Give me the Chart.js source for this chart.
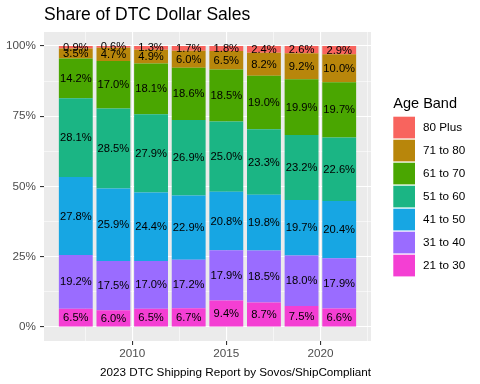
<!DOCTYPE html>
<html>
<head>
<meta charset="utf-8">
<script src="https://cdn.jsdelivr.net/npm/chart.js@4.4.1/dist/chart.umd.min.js"></script>
<style>
  html, body { margin: 0; padding: 0; background: #ffffff; }
  #wrap { width: 480px; height: 384px; }
</style>
</head>
<body>
<div id="wrap"><canvas id="chart" width="480" height="384"></canvas></div>
<script>
// data (percent of DTC dollar sales)
const years = [2007, 2009, 2011, 2013, 2015, 2017, 2019, 2021];
const bandNames = ["21 to 30", "31 to 40", "41 to 50", "51 to 60", "61 to 70", "71 to 80", "80 Plus"];
const share21to30 = [6.5, 6.0, 6.5, 6.7, 9.4, 8.7, 7.5, 6.6];
const share31to40 = [19.2, 17.5, 17.0, 17.2, 17.9, 18.5, 18.0, 17.9];
const share41to50 = [27.8, 25.9, 24.4, 22.9, 20.8, 19.8, 19.7, 20.4];
const share51to60 = [28.1, 28.5, 27.9, 26.9, 25.0, 23.3, 23.2, 22.6];
const share61to70 = [14.2, 17.0, 18.1, 18.6, 18.5, 19.0, 19.9, 19.7];
const share71to80 = [3.5, 4.7, 4.9, 6.0, 6.5, 8.2, 9.2, 10.0];
const share80plus = [0.9, 0.6, 1.3, 1.7, 1.8, 2.4, 2.6, 2.9];
const yTicks = [0, 0.25, 0.5, 0.75, 1];
const yMinorTicks = [0.125, 0.375, 0.625, 0.875];
const xTicks = [2010, 2015, 2020];
const xMinorTicks = [2007.5, 2012.5, 2017.5, 2022.5];

const bandShares = [share21to30, share31to40, share41to50, share51to60, share61to70, share71to80, share80plus];
const bandColors = ["#F43FD3", "#9A6CFF", "#17A6E3", "#1BB584", "#4AA601", "#B8860B", "#F8645E"];

const FONT = "'Liberation Sans', Arial, Helvetica, sans-serif";

// position = "fill": each year's bar sums to 1
const totals = years.map((_, j) => bandShares.reduce((s, arr) => s + arr[j], 0));

const datasets = bandNames.map((name, i) => ({
    label: name,
    data: years.map((yr, j) => ({ x: yr, y: bandShares[i][j] / totals[j] })),
    raw: bandShares[i],
    backgroundColor: bandColors[i],
    borderWidth: 0,
    barPercentage: 0.9,
    categoryPercentage: 1
}));

// grey panel like ggplot
const panelBg = {
    id: "panelBg",
    beforeDraw(chart) {
        const { ctx, chartArea: a } = chart;
        ctx.save();
        ctx.fillStyle = "#EBEBEB";
        ctx.fillRect(a.left, a.top, a.right - a.left, a.bottom - a.top);
        ctx.restore();
    }
};

// percent labels centred in each segment
const segLabels = {
    id: "segLabels",
    afterDatasetsDraw(chart) {
        const ctx = chart.ctx;
        ctx.save();
        ctx.font = "11.2px " + FONT;
        ctx.fillStyle = "#000000";
        ctx.textAlign = "center";
        ctx.textBaseline = "middle";
        chart.data.datasets.forEach((ds, i) => {
            chart.getDatasetMeta(i).data.forEach((bar, j) => {
                const p = bar.getProps(["x", "y", "base"], true);
                ctx.fillText(ds.raw[j].toFixed(1) + "%", p.x, (p.y + p.base) / 2 + 0.5);
            });
        });
        ctx.restore();
    }
};

// title + legend drawn ggplot style
const decor = {
    id: "decor",
    afterDraw(chart) {
        const { ctx, chartArea: a } = chart;
        ctx.save();
        ctx.fillStyle = "#000000";
        ctx.textAlign = "left";
        ctx.textBaseline = "alphabetic";
        ctx.font = "17.5px " + FONT;
        ctx.fillText("Share of DTC Dollar Sales", a.left, 20);

        const lx = 393.3, ly = 116.7, step = 23, key = 21.7;
        ctx.font = "14.5px " + FONT;
        ctx.fillText("Age Band", lx, 107.5);
        ctx.font = "11.7px " + FONT;
        ctx.textBaseline = "middle";
        const order = bandNames.map((_, i) => i).reverse();
        order.forEach((i, k) => {
            const y = ly + k * step;
            ctx.fillStyle = bandColors[i];
            ctx.fillRect(lx, y, key, key);
            ctx.fillStyle = "#000000";
            ctx.fillText(bandNames[i], 423, y + key / 2 + 0.5);
        });
        ctx.restore();
    }
};

const isMajor = (list, c) => !!(c && c.tick) && list.some(t => Math.abs(t - c.tick.value) < 1e-9);
const isMajorVal = (list, v) => list.some(t => Math.abs(t - v) < 1e-9);

new Chart(document.getElementById("chart"), {
    type: "bar",
    data: { datasets },
    options: {
        responsive: false,
        animation: false,
        layout: { padding: { left: 0, right: 109, top: 32, bottom: 0 } },
        plugins: {
            legend: { display: false },
            title: { display: false },
            tooltip: { enabled: false }
        },
        scales: {
            x: {
                type: "linear",
                stacked: true,
                offset: false,
                min: 2005.31,
                max: 2022.69,
                afterBuildTicks: s => {
                    s.ticks = xMinorTicks.concat(xTicks).sort((p, q) => p - q).map(v => ({ value: v }));
                },
                afterFit: s => { s.height = 43; },
                ticks: {
                    autoSkip: false,
                    maxRotation: 0,
                    padding: 2,
                    color: "#4D4D4D",
                    font: { family: FONT, size: 11.7 },
                    callback: v => isMajorVal(xTicks, v) ? String(v) : ""
                },
                grid: {
                    offset: false,
                    color: "#FFFFFF",
                    lineWidth: c => isMajor(xTicks, c) ? 1.1 : 0.55,
                    tickLength: 4,
                    tickColor: c => isMajor(xTicks, c) ? "#333333" : "rgba(0,0,0,0)",
                    tickWidth: 1.1
                },
                border: { display: false },
                title: {
                    display: true,
                    text: "2023 DTC Shipping Report by Sovos/ShipCompliant",
                    align: "end",
                    color: "#000000",
                    font: { family: FONT, size: 11.7 },
                    padding: { top: 2, bottom: 4 }
                }
            },
            y: {
                stacked: true,
                min: -0.05,
                max: 1.05,
                afterBuildTicks: s => {
                    s.ticks = yMinorTicks.concat(yTicks).sort((p, q) => p - q).map(v => ({ value: v }));
                },
                afterFit: s => { s.width = 44; },
                ticks: {
                    autoSkip: false,
                    padding: 4,
                    color: "#4D4D4D",
                    font: { family: FONT, size: 11.7 },
                    callback: v => isMajorVal(yTicks, v) ? Math.round(v * 100) + "%" : ""
                },
                grid: {
                    color: "#FFFFFF",
                    lineWidth: c => isMajor(yTicks, c) ? 1.1 : 0.55,
                    tickLength: 4,
                    tickColor: c => isMajor(yTicks, c) ? "#333333" : "rgba(0,0,0,0)",
                    tickWidth: 1.1
                },
                border: { display: false }
            }
        }
    },
    plugins: [panelBg, segLabels, decor]
});
</script>
</body>
</html>
